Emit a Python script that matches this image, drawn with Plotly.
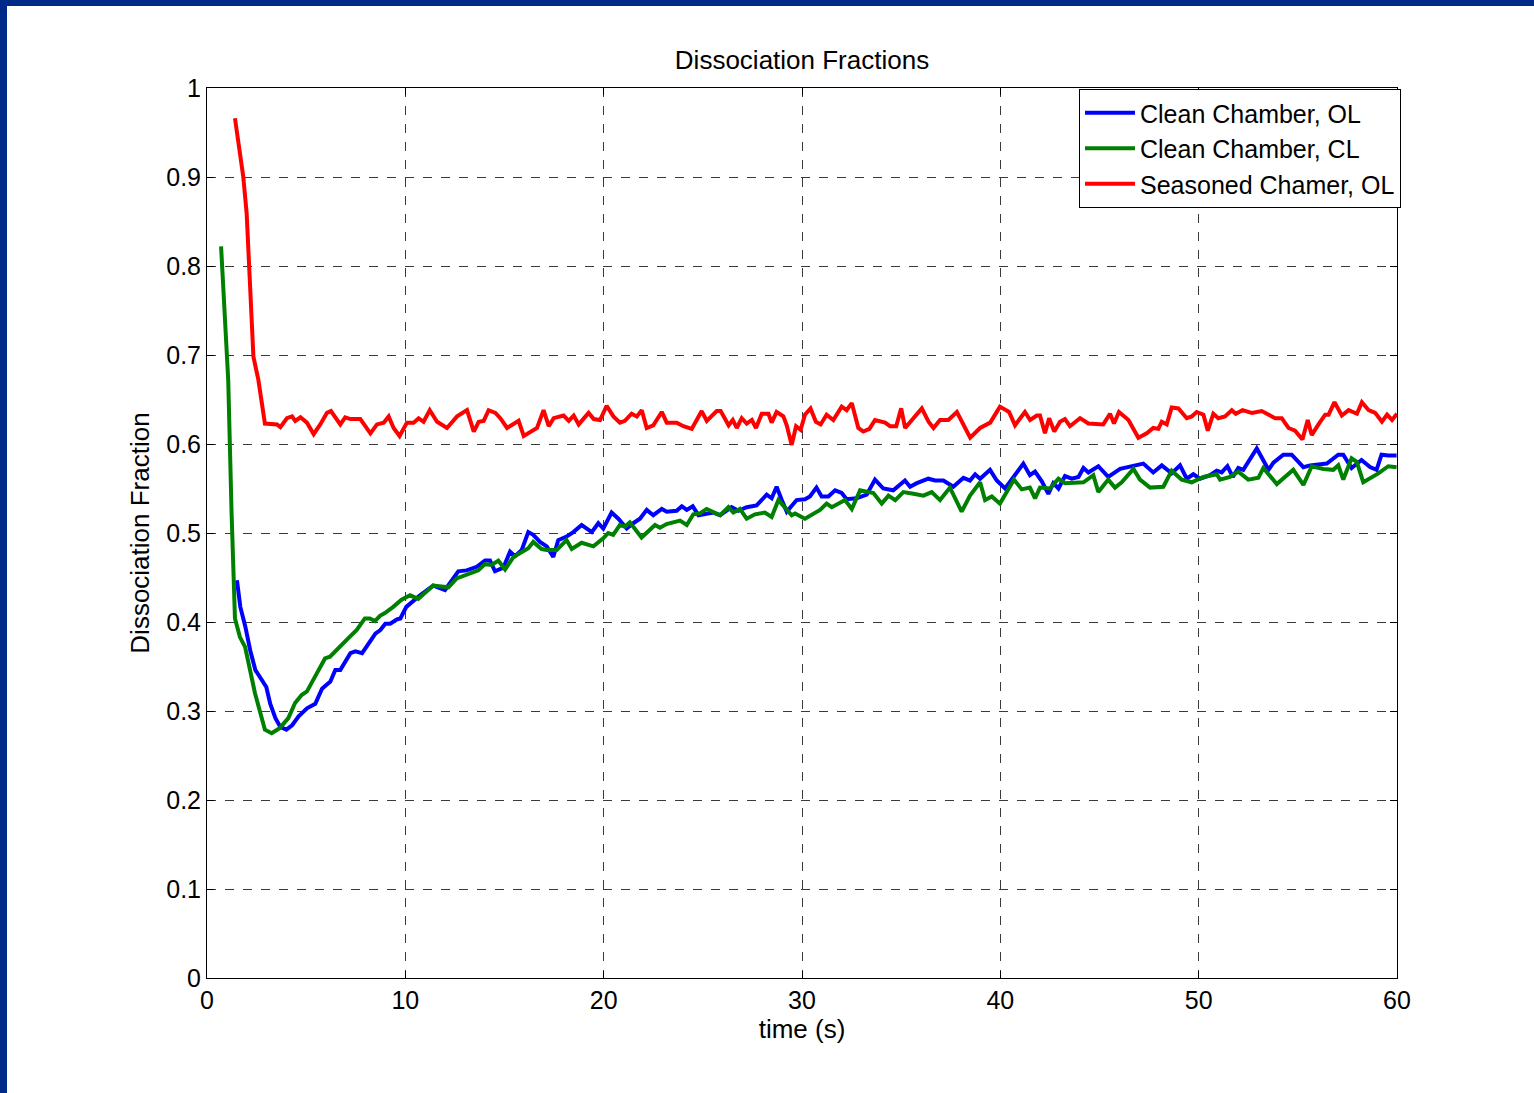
import plotly.graph_objects as go

# Clean chamber, open loop
time_clean_ol = [1.51, 1.68, 1.93, 2.18, 2.44, 2.69, 2.99, 3.19, 3.45, 3.70, 4.00, 4.29, 4.62, 5.04, 5.46,
                 5.80, 6.22, 6.47, 6.72, 7.23, 7.48, 7.82, 8.15, 8.49, 8.74, 8.99, 9.24, 9.58, 9.75, 10.05,
                 10.74, 11.41, 12.00, 12.67, 13.09, 13.60, 14.02, 14.27, 14.52, 14.94, 15.28, 15.53, 15.87,
                 16.20, 16.45, 16.79, 17.13, 17.46, 17.71, 18.13, 18.47, 18.89, 19.40, 19.73, 19.98, 20.40,
                 20.74, 21.16, 21.49, 21.83, 22.17, 22.50, 22.93, 23.18, 23.68, 23.94, 24.19, 24.49, 24.78,
                 25.53, 25.87, 26.45, 26.79, 27.21, 27.71, 28.22, 28.47, 28.72, 28.98, 29.23, 29.73, 30.15,
                 30.40, 30.73, 30.99, 31.33, 31.67, 32.00, 32.25, 32.75, 33.26, 33.68, 34.10, 34.60, 35.19,
                 35.45, 35.79, 36.37, 36.71, 37.13, 37.63, 38.14, 38.47, 38.73, 38.98, 39.48,
                 39.82, 40.24, 41.16, 41.49, 41.75, 42.09, 42.42, 42.67, 42.93, 43.26, 43.60, 43.94, 44.19,
                 44.44, 44.94, 45.44, 46.04, 46.71, 47.21, 47.71, 48.14, 48.64, 49.06, 49.40, 49.73, 50.07,
                 50.57, 50.91, 51.16, 51.45, 51.72, 52.00, 52.25, 52.93, 53.52, 53.77, 54.27, 54.69, 55.28,
                 55.62, 56.46, 57.04, 57.29, 57.71, 58.21, 58.64, 58.97, 59.22, 59.56, 59.98]
frac_clean_ol = [0.447, 0.417, 0.395, 0.368, 0.346, 0.337, 0.327, 0.308, 0.292, 0.282, 0.279, 0.284, 0.294, 0.303, 0.308,
                 0.325, 0.333, 0.346, 0.346, 0.365, 0.367, 0.365, 0.376, 0.387, 0.391, 0.398, 0.398, 0.403, 0.404, 0.417,
                 0.430, 0.441, 0.436, 0.457, 0.458, 0.462, 0.469, 0.469, 0.457, 0.461, 0.479, 0.474, 0.481,
                 0.501, 0.498, 0.490, 0.485, 0.473, 0.492, 0.496, 0.501, 0.509, 0.501, 0.511, 0.505, 0.523,
                 0.516, 0.505, 0.511, 0.516, 0.526, 0.520, 0.527, 0.524, 0.525, 0.530, 0.526, 0.530, 0.520,
                 0.523, 0.520, 0.529, 0.525, 0.529, 0.531, 0.543, 0.539, 0.552, 0.537, 0.524, 0.537, 0.538,
                 0.541, 0.551, 0.541, 0.541, 0.548, 0.545, 0.538, 0.539, 0.543, 0.560, 0.550, 0.548, 0.559,
                 0.552, 0.556, 0.561, 0.559, 0.559, 0.552, 0.562, 0.559, 0.566, 0.561, 0.571,
                 0.559, 0.550, 0.578, 0.565, 0.569, 0.558, 0.544, 0.556, 0.550, 0.564, 0.561, 0.563, 0.573,
                 0.568, 0.575, 0.563, 0.572, 0.575, 0.578, 0.568, 0.576, 0.567, 0.576, 0.561, 0.566, 0.561,
                 0.565, 0.570, 0.568, 0.575, 0.563, 0.573, 0.571, 0.595, 0.571, 0.579, 0.588, 0.588, 0.574,
                 0.576, 0.578, 0.588, 0.588, 0.573, 0.582, 0.574, 0.571, 0.588, 0.587, 0.587]

# Clean chamber, closed loop
time_clean_cl = [0.71, 1.07, 1.24, 1.41, 1.66, 1.92, 2.42, 2.92, 3.26, 3.68, 4.10, 4.44, 4.77, 5.04, 5.53,
                 5.95, 6.20, 6.54, 7.04, 7.55, 7.96, 8.21, 8.47, 8.72, 8.97, 9.39, 9.81,
                 10.24, 10.65, 11.41, 12.17, 12.59, 13.26, 13.68, 14.02, 14.35, 14.69, 15.03, 15.45, 15.87,
                 16.20, 16.45, 16.87, 17.13, 17.63, 18.13, 18.39, 18.89, 19.48, 19.98, 20.23, 20.48, 20.82,
                 21.07, 21.32, 21.91, 22.59, 22.84, 23.17, 23.85, 24.19, 24.52, 24.86,
                 25.19, 25.87, 26.29, 26.54, 26.87, 27.21, 27.63, 28.13, 28.47, 28.81, 29.48, 29.65, 30.15,
                 30.57, 30.91, 31.24, 31.50, 32.17, 32.51, 32.93, 33.60, 34.02, 34.36, 34.70, 35.11, 35.62,
                 36.12, 36.54, 36.96, 37.46, 38.05, 38.47, 38.98, 39.23, 39.57,
                 39.98, 40.69, 41.08, 41.49, 41.75, 42.00, 42.50, 42.93, 43.26, 44.19, 44.69, 44.94, 45.44,
                 45.78, 46.12, 46.71, 47.04, 47.55, 48.22, 48.64, 49.14, 49.65, 50.24, 50.91, 51.08, 51.58,
                 52.00, 52.50, 53.01, 53.26, 53.94, 54.77, 55.28, 55.70, 56.29, 56.79, 57.04, 57.29, 57.71,
                 57.97, 58.30, 58.64, 59.06, 59.56, 59.98]
frac_clean_cl = [0.822, 0.672, 0.522, 0.404, 0.383, 0.372, 0.320, 0.279, 0.275, 0.281, 0.292, 0.309, 0.318, 0.322, 0.342,
                 0.359, 0.361, 0.369, 0.380, 0.391, 0.404, 0.404, 0.401, 0.407, 0.410, 0.417, 0.425,
                 0.430, 0.426, 0.441, 0.439, 0.449, 0.455, 0.458, 0.465, 0.464, 0.469, 0.459, 0.473, 0.479,
                 0.483, 0.490, 0.482, 0.481, 0.481, 0.492, 0.482, 0.489, 0.485, 0.494, 0.500, 0.498, 0.509,
                 0.507, 0.512, 0.495, 0.509, 0.506, 0.510, 0.514, 0.509, 0.521, 0.522,
                 0.527, 0.520, 0.529, 0.523, 0.527, 0.516, 0.521, 0.523, 0.518, 0.537, 0.520, 0.522, 0.516,
                 0.522, 0.526, 0.533, 0.529, 0.537, 0.527, 0.548, 0.545, 0.533, 0.542, 0.537, 0.546, 0.544,
                 0.542, 0.546, 0.537, 0.551, 0.524, 0.542, 0.557, 0.537, 0.541,
                 0.533, 0.560, 0.549, 0.551, 0.539, 0.551, 0.550, 0.561, 0.556, 0.557, 0.565, 0.546, 0.560,
                 0.551, 0.557, 0.572, 0.560, 0.551, 0.552, 0.570, 0.560, 0.557, 0.563, 0.566, 0.560, 0.563,
                 0.569, 0.560, 0.562, 0.573, 0.555, 0.571, 0.554, 0.575, 0.572, 0.571, 0.576, 0.560, 0.584,
                 0.580, 0.557, 0.561, 0.567, 0.575, 0.574]

# Seasoned chamber, open loop
time_seasoned_ol = [1.41, 1.83, 2.00, 2.17, 2.34, 2.59, 2.92, 3.53, 3.70, 4.03, 4.29, 4.45, 4.71, 5.04, 5.38,
                    5.71, 6.05, 6.25, 6.72, 6.97, 7.23, 7.73, 8.24, 8.57, 8.91, 9.16, 9.41, 9.71, 10.08, 10.42,
                    10.67, 10.92, 11.23, 11.60, 12.10, 12.61, 13.11, 13.45, 13.70, 13.95, 14.20, 14.54, 14.79,
                    15.13, 15.38, 15.71, 15.97, 16.30, 16.64, 16.97, 17.23, 17.48, 17.98, 18.24, 18.49, 18.74,
                    19.24, 19.50,
                    19.82, 20.15, 20.49, 20.82, 21.07, 21.41, 21.67, 21.92, 22.17, 22.50, 22.93, 23.18, 23.68,
                    24.02, 24.44, 24.69, 24.94, 25.20, 25.70, 25.90, 26.30, 26.51, 26.71, 26.96, 27.21, 27.47,
                    27.68, 27.97, 28.31, 28.47, 28.72, 29.06, 29.23, 29.48, 29.70, 29.93, 30.15, 30.43, 30.70,
                    30.94, 31.24, 31.58, 32.00, 32.25, 32.51, 32.84, 33.09, 33.40, 33.68, 34.19, 34.44, 34.75,
                    35.00, 35.20, 35.62, 36.04, 36.38, 36.63, 36.96, 37.38, 37.81, 38.48, 38.98, 39.49,
                    39.98, 40.24, 40.44, 40.74, 41.24, 41.50, 41.84, 42.00, 42.25, 42.46, 42.72, 43.01, 43.26,
                    43.51, 44.02, 44.44, 45.19, 45.53, 45.73, 45.98, 46.46, 46.96, 47.38, 47.71, 47.97, 48.14,
                    48.39, 48.64, 48.98, 49.40, 49.65, 49.90, 50.24, 50.46, 50.74, 50.99, 51.33, 51.67, 51.87,
                    52.21, 52.68, 53.18, 53.52, 53.86, 54.19, 54.53, 54.86, 55.23, 55.50, 55.70, 56.04, 56.38,
                    56.55, 56.85, 57.22, 57.56, 57.98, 58.23, 58.57, 58.90, 59.24, 59.50, 59.75, 60.00]
frac_seasoned_ol = [0.966, 0.900, 0.859, 0.766, 0.698, 0.672, 0.623, 0.622, 0.619, 0.629, 0.631, 0.626, 0.630, 0.624, 0.611,
                    0.622, 0.635, 0.637, 0.622, 0.630, 0.628, 0.628, 0.612, 0.622, 0.624, 0.631, 0.618, 0.609, 0.624, 0.624,
                    0.629, 0.625, 0.638, 0.625, 0.618, 0.631, 0.638, 0.614, 0.625, 0.626, 0.638, 0.635, 0.629,
                    0.618, 0.622, 0.626, 0.609, 0.614, 0.618, 0.638, 0.620, 0.629, 0.632, 0.626, 0.632, 0.622,
                    0.635, 0.628,
                    0.627, 0.643, 0.631, 0.624, 0.626, 0.634, 0.631, 0.638, 0.618, 0.621, 0.636, 0.624, 0.624,
                    0.620, 0.617, 0.627, 0.637, 0.626, 0.637, 0.637, 0.621, 0.627, 0.618, 0.629, 0.623, 0.627,
                    0.618, 0.634, 0.634, 0.624, 0.636, 0.631, 0.621, 0.599, 0.620, 0.616, 0.633, 0.640, 0.625,
                    0.622, 0.633, 0.627, 0.642, 0.638, 0.646, 0.618, 0.614, 0.617, 0.627, 0.624, 0.620, 0.620,
                    0.640, 0.618, 0.629, 0.640, 0.625, 0.618, 0.627, 0.627, 0.636, 0.607, 0.618, 0.624,
                    0.642, 0.638, 0.636, 0.621, 0.636, 0.627, 0.632, 0.632, 0.612, 0.629, 0.614, 0.625, 0.628,
                    0.620, 0.629, 0.623, 0.622, 0.634, 0.623, 0.636, 0.627, 0.607, 0.612, 0.618, 0.617, 0.625,
                    0.622, 0.641, 0.640, 0.629, 0.631, 0.636, 0.633, 0.615, 0.634, 0.629, 0.631, 0.638, 0.634,
                    0.638, 0.635, 0.637, 0.633, 0.629, 0.629, 0.618, 0.615, 0.605, 0.627, 0.610, 0.622, 0.633,
                    0.633, 0.647, 0.632, 0.638, 0.634, 0.647, 0.638, 0.635, 0.625, 0.633, 0.627, 0.634]

series_names = ["Clean Chamber, OL", "Clean Chamber, CL", "Seasoned Chamer, OL"]
series_colors = ["#0000FF", "#008000", "#FF0000"]

FONT = "Liberation Sans, Arial, sans-serif"
W, H = 1534, 1093
ML, MR, MT, MB = 207, 137, 88, 115
PW, PH = W - ML - MR, H - MT - MB
NAVY = "#002A87"

fig = go.Figure()
for t, v, name, color in zip(
    [time_clean_ol, time_clean_cl, time_seasoned_ol],
    [frac_clean_ol, frac_clean_cl, frac_seasoned_ol],
    series_names, series_colors,
):
    fig.add_trace(go.Scatter(x=t, y=v, mode="lines", name=name,
                             line=dict(color=color, width=4)))

axis_common = dict(
    showline=True, linecolor="black", linewidth=1, mirror="ticks",
    ticks="inside", ticklen=7, tickcolor="black",
    showgrid=True, gridcolor="#3a3a3a", gridwidth=1, griddash="dash",
    zeroline=False,
    tickfont=dict(family=FONT, size=25, color="black"),
)

fig.update_xaxes(range=[0, 60], dtick=10, tick0=0,
                 title=dict(text="time (s)", font=dict(family=FONT, size=26, color="black"), standoff=0),
                 **axis_common)
fig.update_yaxes(range=[0, 1], dtick=0.1, tick0=0,
                 title=dict(text="Dissociation Fraction", font=dict(family=FONT, size=26, color="black"), standoff=9),
                 **axis_common)

# slide-style navy border along the top and left edges
fig.add_shape(type="rect", xref="paper", yref="paper",
              x0=-ML / PW, x1=(7 - ML) / PW, y0=-MB / PH, y1=1 + MT / PH,
              fillcolor=NAVY, line=dict(width=0), layer="above")
fig.add_shape(type="rect", xref="paper", yref="paper",
              x0=-ML / PW, x1=1 + MR / PW, y0=1 + (MT - 6) / PH, y1=1 + MT / PH,
              fillcolor=NAVY, line=dict(width=0), layer="above")

fig.update_layout(
    width=W, height=H,
    margin=dict(l=ML, r=MR, t=MT, b=MB, autoexpand=False),
    paper_bgcolor="white", plot_bgcolor="white",
    title=dict(text="Dissociation Fractions", x=0.5, xref="paper", xanchor="center",
               y=1 - 60 / H, yref="container", yanchor="middle",
               font=dict(family=FONT, size=26, color="black")),
    legend=dict(x=(1079 - ML) / PW, y=(H - MB - 89) / PH, xanchor="left", yanchor="top",
                bgcolor="white", bordercolor="black", borderwidth=1,
                font=dict(family=FONT, size=25, color="black"),
                itemwidth=50, tracegroupgap=0),
    showlegend=True,
)

fig.write_html("out.html")
